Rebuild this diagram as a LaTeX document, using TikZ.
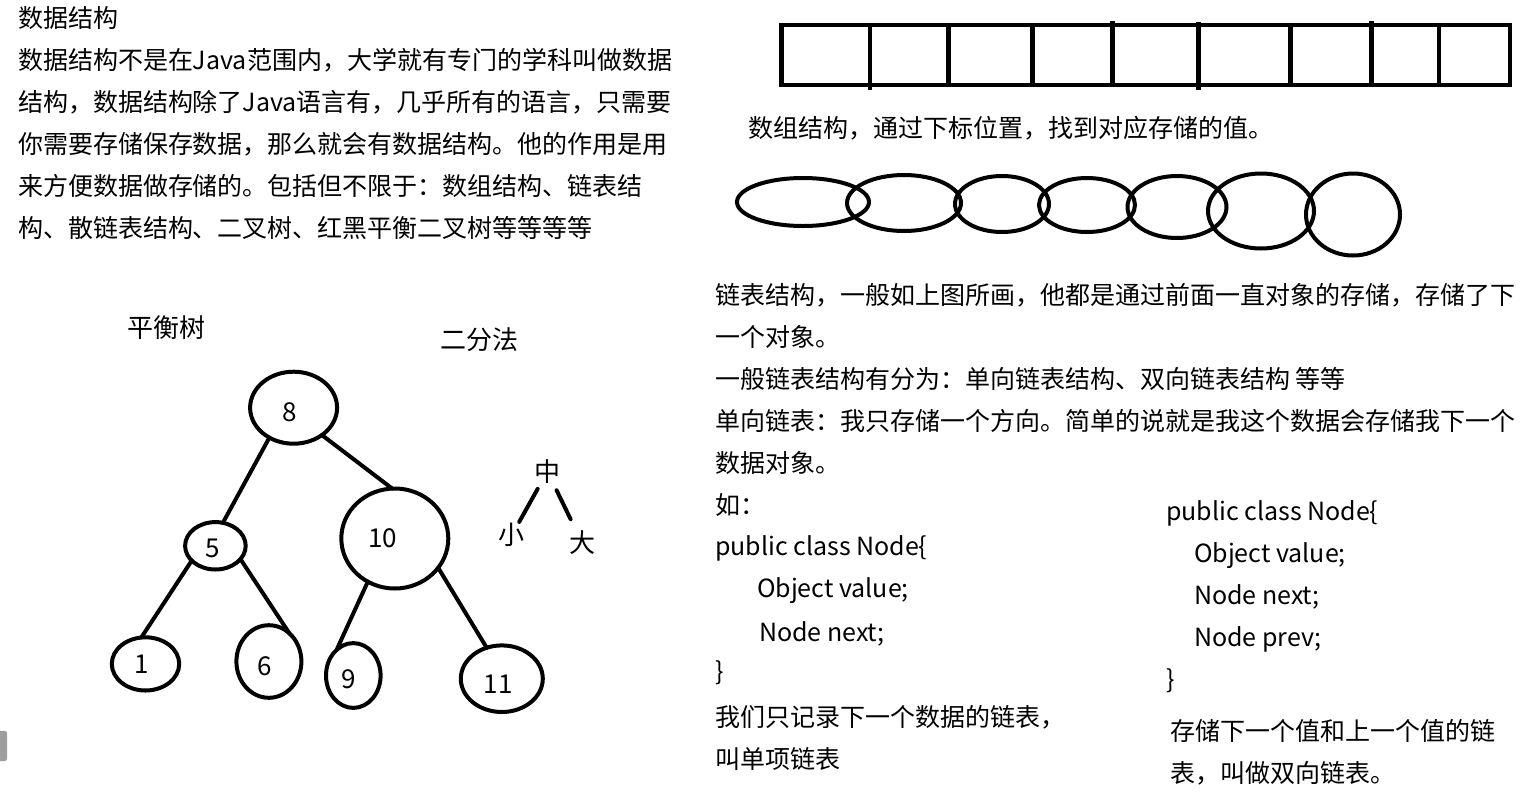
\documentclass[tikz,border=0pt]{standalone}
\usepackage{fontspec}
\setmainfont{Noto Sans CJK SC}
\usetikzlibrary{shapes.geometric}

\begin{document}
\begin{tikzpicture}[x=1pt, y=-1pt,
    txt/.style={anchor=base west, inner sep=0, outer sep=0, font=\fontsize{25}{30}\selectfont},
    num/.style={inner sep=0, font=\fontsize{26}{30}\selectfont},
    ring/.style={draw, ellipse, line width=4pt, inner sep=0, outer sep=0},
    link/.style={line width=4pt, line cap=round},
    bar/.style={line width=4.7pt}
  ]
  \useasboundingbox (0,0) rectangle (1537,801);

  % left text
  \node[txt] (title) at (18,27) {数据结构};
  \node[txt] (intro1) at (18,69) {数据结构不是在Java范围内，大学就有专门的学科叫做数据};
  \node[txt] (intro2) at (18,111) {结构，数据结构除了Java语言有，几乎所有的语言，只需要};
  \node[txt] (intro3) at (18,153) {你需要存储保存数据，那么就会有数据结构。他的作用是用};
  \node[txt] (intro4) at (18,195) {来方便数据做存储的。包括但不限于：数组结构、链表结};
  \node[txt] (intro5) at (18,237) {构、散链表结构、二叉树、红黑平衡二叉树等等等等};

  % array
  \draw[bar] (781.5,25) rectangle (1510,85);
  \foreach \x/\a/\b in {870/25/89.5, 948.3/25/85, 1032.3/25/85, 1112.3/21/85,
                        1198.3/21.5/90, 1290.7/25/85, 1371.7/21/85, 1439/25/85}
    \draw[bar] (\x,\a) -- (\x,\b);
  \node[txt] (arraytxt) at (748,137) {数组结构，通过下标位置，找到对应存储的值。};

  % chain
  \draw[link] (803,202) ellipse [x radius=66pt, y radius=24pt];
  \draw[link] (904,203) ellipse [x radius=57pt, y radius=28pt];
  \draw[link] (1002,204) ellipse [x radius=47pt, y radius=28pt];
  \draw[link] (1087,205) ellipse [x radius=48pt, y radius=27pt];
  \draw[link] (1177,207) ellipse [x radius=49.5pt, y radius=31pt];
  \draw[link] (1261,211) ellipse [x radius=53pt, y radius=37.5pt];
  \draw[link] (1353,214.5) ellipse [x radius=47pt, y radius=41pt];

  % right text
  \node[txt] (list1) at (715,304) {链表结构，一般如上图所画，他都是通过前面一直对象的存储，存储了下};
  \node[txt] (list2) at (715,346) {一个对象。};
  \node[txt] (list3) at (715,388) {一般链表结构有分为：单向链表结构、双向链表结构 等等};
  \node[txt] (list4) at (715,430) {单向链表：我只存储一个方向。简单的说就是我这个数据会存储我下一个};
  \node[txt] (list5) at (715,472) {数据对象。};
  \node[txt] (list6) at (715,514) {如：};
  \node[txt] (codeA1) at (715,555) {public class Node\{};
  \node[txt] (codeA2) at (757,597) {Object value;};
  \node[txt] (codeA3) at (759,641) {Node next;};
  \node[txt] (codeA4) at (715,680) {\}};
  \node[txt] (single1) at (715,726) {我们只记录下一个数据的链表，};
  \node[txt] (single2) at (715,768) {叫单项链表};

  \node[txt] (codeB1) at (1166,520) {public class Node\{};
  \node[txt] (codeB2) at (1194,562) {Object value;};
  \node[txt] (codeB3) at (1194,604) {Node next;};
  \node[txt] (codeB4) at (1194,646) {Node prev;};
  \node[txt] (codeB5) at (1166,688) {\}};
  \node[txt] (double1) at (1170,740) {存储下一个值和上一个值的链};
  \node[txt] (double2) at (1170,782) {表，叫做双向链表。};

  % tree
  \node[num] (balance) at (166,328) {平衡树};
  \node[num] (binary) at (479,340) {二分法};

  \node[ring, minimum width=87pt, minimum height=72pt] (n8) at (293.6,407.7) {};
  \node[ring, minimum width=60.6pt, minimum height=47.4pt] (n5) at (215.4,545.8) {};
  \node[ring, minimum width=107pt, minimum height=100pt] (n10) at (394.8,538.5) {};
  \node[ring, minimum width=67.4pt, minimum height=53.2pt] (n1) at (145.5,663.9) {};
  \node[ring, minimum width=65pt, minimum height=72.6pt] (n6) at (268.9,661.5) {};
  \node[ring, minimum width=54.6pt, minimum height=64.8pt] (n9) at (353.3,675.5) {};
  \node[ring, minimum width=82pt, minimum height=66.6pt] (n11) at (501.8,678.7) {};

  \node[num] (l8) at (290,412.6) {8};
  \node[num] (l5) at (212.8,548.6) {5};
  \node[num] (l10) at (382.6,538.6) {10};
  \node[num] (l1) at (142,664.6) {1};
  \node[num] (l6) at (264.9,666.2) {6};
  \node[num] (l9) at (348.5,679.7) {9};
  \node[num] (l11) at (498.2,684.7) {11};

  \draw[link] (n8.-129) -- (n5.72);
  \draw[link] (n8.-44) -- (n10.93);
  \draw[link] (n5.-148) -- (n1.99);
  \draw[link] (n5.-28) -- (n6.54);
  \draw[link] (n10.-122) -- (n9.123);
  \draw[link] (n10.-34) -- (n11.116);

  % small/mid/big
  \node[num] (zhong) at (547.4,471.4) {中};
  \node[num] (xiao) at (511.9,535) {小};
  \node[num] (da) at (582,542.6) {大};
  \draw[link, shorten <=20pt, shorten >=15pt] (zhong.center) -- (xiao.center);
  \draw[link, shorten <=21pt, shorten >=26pt] (zhong.center) -- (da.center);

  % scroll handle
  \fill[black!38, rounded corners=2pt] (-4,731) rectangle (7,761);
\end{tikzpicture}
\end{document}
